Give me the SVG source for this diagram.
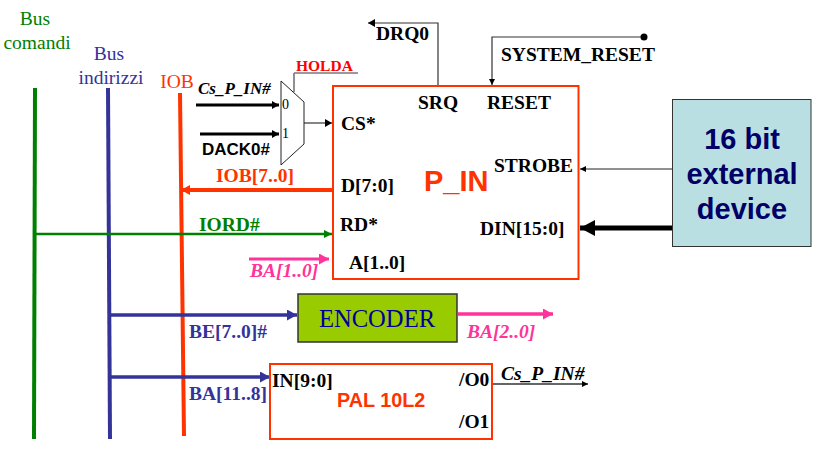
<svg xmlns="http://www.w3.org/2000/svg" width="823" height="452" viewBox="0 0 823 452">
<style>
text{font-family:"Liberation Serif",serif;font-weight:bold;font-size:19.5px;fill:#000}
.n{font-weight:normal}
.s{font-family:"Liberation Sans",sans-serif}
.i{font-style:italic}
.l{fill:none;stroke-linecap:butt}
.g{fill:#008000}.b{fill:#333399}.r{fill:#ff3300}.p{fill:#ff3399}
.dev{font-family:"Liberation Sans",sans-serif;font-size:29px;fill:#000066;text-anchor:middle}
</style>
<defs>
<marker id="ak" markerUnits="userSpaceOnUse" markerWidth="12" markerHeight="10" refX="7" refY="4" orient="auto"><path d="M0 0L7 4L0 8Z" fill="#000"/></marker>
<marker id="as" markerUnits="userSpaceOnUse" markerWidth="8" markerHeight="8" refX="6" refY="3" orient="auto"><path d="M0 0L6 3L0 6Z" fill="#000"/></marker>
<marker id="ag" markerUnits="userSpaceOnUse" markerWidth="12" markerHeight="10" refX="8" refY="4" orient="auto"><path d="M0 0L8 4L0 8Z" fill="#008000"/></marker>
<marker id="ab" markerUnits="userSpaceOnUse" markerWidth="12" markerHeight="12" refX="10" refY="5.500" orient="auto"><path d="M0 0L10 5.500L0 11Z" fill="#333399"/></marker>
<marker id="ar" markerUnits="userSpaceOnUse" markerWidth="12" markerHeight="12" refX="9" refY="5" orient="auto"><path d="M0 0L9 5L0 10Z" fill="#ff3300"/></marker>
<marker id="ap" markerUnits="userSpaceOnUse" markerWidth="12" markerHeight="12" refX="10" refY="5.500" orient="auto"><path d="M0 0L10 5.500L0 11Z" fill="#ff3399"/></marker>
<marker id="ah" markerUnits="userSpaceOnUse" markerWidth="16" markerHeight="16" refX="15" refY="8" orient="auto"><path d="M0 0L15 8L0 16Z" fill="#000"/></marker>
</defs>
<g id="connectors" class="l">
<path d="M35 88L34 439" stroke="#008000" stroke-width="4"/>
<path d="M108 88L110 439" stroke="#333399" stroke-width="4"/>
<path d="M180 93L184 436" stroke="#ff3300" stroke-width="4"/>
<path d="M35 234H332" stroke="#008000" stroke-width="2.500" marker-end="url(#ag)"/>
<path d="M333 190H181" stroke="#ff3300" stroke-width="4" marker-end="url(#ar)"/>
<path d="M196 105H279" stroke="#000" stroke-width="3" marker-end="url(#ak)"/>
<path d="M200 134H279" stroke="#000" stroke-width="3" marker-end="url(#ak)"/>
<path d="M304 123H332" stroke="#333" stroke-width="1.200" marker-end="url(#ak)"/>
<path d="M294 92V73" stroke="#222" stroke-width="1"/>
<path d="M294 73H358" stroke="#777" stroke-width="1.500"/>
<path d="M438 86V23H368" stroke="#333" stroke-width="1.200" marker-end="url(#ak)"/>
<path d="M644 37H492V85" stroke="#333" stroke-width="1.200" marker-end="url(#as)"/>
<path d="M674 169H580" stroke="#222" stroke-width="1" marker-end="url(#as)"/>
<path d="M672 228H580" stroke="#000" stroke-width="5" marker-end="url(#ah)"/>
<path d="M249 259H329" stroke="#ff3399" stroke-width="3" marker-end="url(#ap)"/>
<path d="M110 315H297" stroke="#333399" stroke-width="3.500" marker-end="url(#ab)"/>
<path d="M110 377H270" stroke="#333399" stroke-width="3.500" marker-end="url(#ab)"/>
<path d="M458 314H553" stroke="#ff3399" stroke-width="3.500" marker-end="url(#ap)"/>
<path d="M492 384H588" stroke="#333" stroke-width="1.500" marker-end="url(#as)"/>
<circle cx="644" cy="37" r="3.500" fill="#000"/>
</g>
<g id="labels">
<text x="35" y="25" text-anchor="middle" class="n g">Bus</text>
<text x="37" y="49" text-anchor="middle" class="n g">comandi</text>
<text x="109" y="60" text-anchor="middle" class="n b">Bus</text>
<text x="111" y="84" text-anchor="middle" class="n b">indirizzi</text>
<text x="177" y="88" text-anchor="middle" class="n r">IOB</text>
<text x="198" y="94" class="i" style="font-size:17px">Cs_P_IN#</text>
<text x="202" y="155" class="s" style="font-size:17px">DACK0#</text>
<text x="216" y="182" class="r">IOB[7..0]</text>
<text x="199" y="231" class="g">IORD#</text>
<text x="250" y="277" class="i p">BA[1..0]</text>
<text x="189" y="338" class="b">BE[7..0]#</text>
<text x="189" y="400" class="b">BA[11..8]</text>
<text x="376" y="40">DRQ0</text>
<text x="501" y="61">SYSTEM_RESET</text>
<text x="467" y="338" class="i p">BA[2..0]</text>
<text x="501" y="380" class="i">Cs_P_IN#</text>
</g>
<g id="mux">
<path d="M281 81L304 102V144L281 165Z" fill="#fff" stroke="#222" stroke-width="1"/>
<text x="282" y="109" class="n" style="font-size:14px">0</text>
<text x="282" y="138" class="n" style="font-size:14px">1</text>
<text x="296" y="71" style="fill:#ff0000;font-size:15.500px">HOLDA</text>
</g>
<g id="p_in">
<rect x="333" y="86" width="245.500" height="193" fill="none" stroke="#ff3300" stroke-width="2"/>
<text x="341" y="130">CS*</text>
<text x="341" y="192">D[7:0]</text>
<text x="340" y="231">RD*</text>
<text x="349" y="269">A[1..0]</text>
<text x="418" y="109">SRQ</text>
<text x="487" y="109">RESET</text>
<text x="494" y="172">STROBE</text>
<text x="480" y="235">DIN[15:0]</text>
<text x="424" y="191" class="s r" style="font-size:29px">P_IN</text>
</g>
<g id="external_device">
<rect x="672.500" y="99.500" width="138.500" height="147" fill="#b9dfe3" stroke="#333" stroke-width="1"/>
<text x="742" y="149" class="dev">16 bit</text>
<text x="742" y="184" class="dev">external</text>
<text x="742" y="219" class="dev">device</text>
</g>
<g id="encoder">
<rect x="298" y="294" width="159" height="48" fill="#99cc00" stroke="#333" stroke-width="1.500"/>
<text x="377" y="327" text-anchor="middle" class="n" style="font-size:24.600px;fill:#000099">ENCODER</text>
</g>
<g id="pal">
<rect x="270" y="364" width="222" height="75" fill="none" stroke="#ff3300" stroke-width="2"/>
<text x="272" y="387">IN[9:0]</text>
<text x="459" y="386">/O0</text>
<text x="459" y="428">/O1</text>
<text x="337" y="407" class="s r" style="font-size:19.800px">PAL 10L2</text>
</g>
</svg>
